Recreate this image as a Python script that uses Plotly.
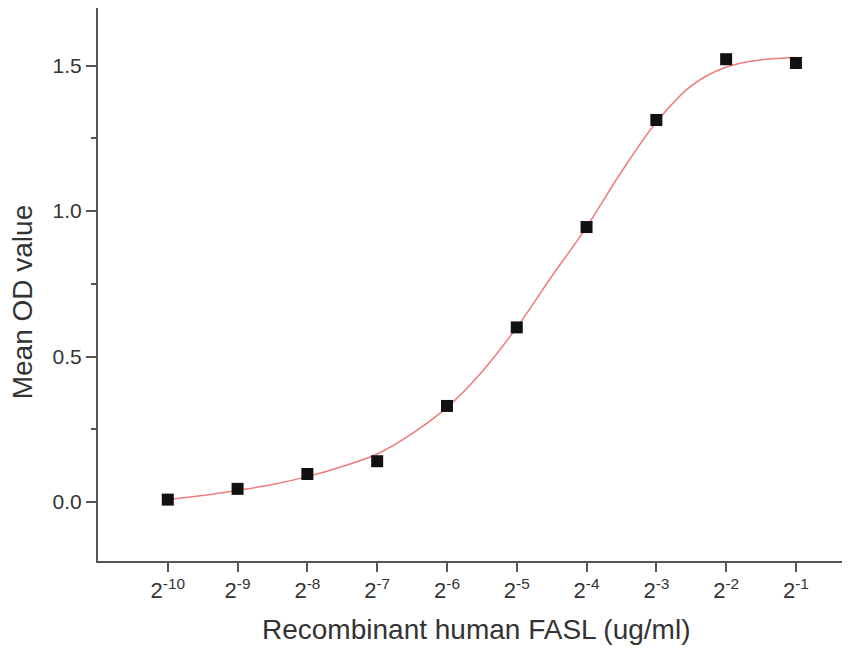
import plotly.graph_objects as go

# Data (x given as log2 exponent of concentration, ug/ml)
exponents = [-10, -9, -8, -7, -6, -5, -4, -3, -2, -1]
mean_od = [0.008, 0.045, 0.096, 0.140, 0.330, 0.600, 0.945, 1.313, 1.522, 1.509]

# Fitted curve at half steps
fit_exp = [-10, -9.5, -9, -8.5, -8, -7.5, -7, -6.5, -6, -5.5, -5, -4.5, -4, -3.5, -3, -2.5, -2, -1.5, -1]
fit_od = [0.008, 0.022, 0.040, 0.060, 0.087, 0.122, 0.165, 0.235, 0.325, 0.447, 0.600, 0.775,
          0.945, 1.135, 1.305, 1.430, 1.495, 1.520, 1.528]

xtick_vals = exponents
xtick_text = [f"2<sup>{e}</sup>" for e in exponents]
ytick_vals = [0.0, 0.5, 1.0, 1.5]
ytick_text = ["0.0", "0.5", "1.0", "1.5"]

fig = go.Figure()
fig.add_trace(go.Scatter(x=fit_exp, y=fit_od, mode="lines", line=dict(color="#ee7b7b", width=1.5, shape="spline"),
                         hoverinfo="skip", showlegend=False))
fig.add_trace(go.Scatter(x=exponents, y=mean_od, mode="markers",
                         marker=dict(symbol="square", size=12, color="#111111"), showlegend=False))

font_family = "Liberation Sans, Arial, sans-serif"
fig.update_layout(
    width=834, height=637,
    margin=dict(l=90, r=0, t=0, b=84),
    paper_bgcolor="white", plot_bgcolor="white",
    font=dict(family=font_family, color="#333333"),
    xaxis=dict(
        range=[-11, -0.34], showgrid=False, zeroline=False,
        showline=True, linecolor="#555555", linewidth=2,
        ticks="outside", ticklen=9, tickwidth=2, tickcolor="#555555",
        tickvals=xtick_vals, ticktext=xtick_text, tickfont=dict(size=22, color="#333333"),
    ),
    yaxis=dict(
        range=[-0.203, 1.698], showgrid=False, zeroline=False,
        showline=True, linecolor="#555555", linewidth=2,
        ticks="outside", ticklen=10, tickwidth=2, tickcolor="#555555",
        tickvals=ytick_vals, ticktext=ytick_text, tickfont=dict(size=21, color="#333333"),
        minor=dict(dtick=0.25, tick0=0, ticks="outside", ticklen=5, tickwidth=2, tickcolor="#555555"),
    ),
    annotations=[
        dict(text="Recombinant human FASL (ug/ml)", xref="paper", yref="paper", x=0.509, y=-0.1235,
             xanchor="center", yanchor="middle", showarrow=False, font=dict(size=28, color="#333333")),
        dict(text="Mean OD value", xref="paper", yref="paper", x=-0.102, y=0.468, textangle=-90,
             xanchor="center", yanchor="middle", showarrow=False, font=dict(size=28, color="#333333")),
    ],
)
fig.write_html("out.html")
